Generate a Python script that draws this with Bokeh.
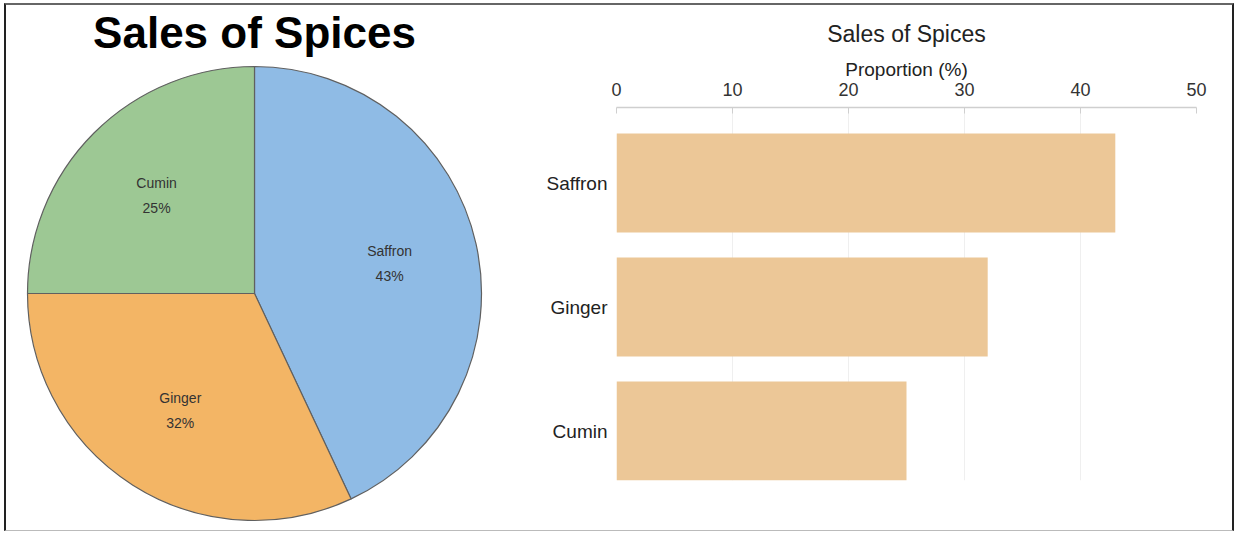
import math
from bokeh.plotting import figure
from bokeh.layouts import row, column
from bokeh.models import Range1d, FixedTicker, ColumnDataSource
from bokeh.embed import file_html
from bokeh.resources import INLINE
from bokeh.core.properties import value

# ---------------- data ----------------
title_text = "Sales of Spices"
spices = ["Saffron", "Ginger", "Cumin"]
shares = [43, 32, 25]
pie_colors = ["#8fbbe5", "#f3b565", "#9dc894"]

bar_spices = ["Saffron", "Ginger", "Cumin"]
bar_values = [43, 32, 25]
x_ticks = [0, 10, 20, 30, 40, 50]
x_label = "Proportion (%)"

FONT = "Liberation Sans"

# ---------------- pie ----------------
total = sum(shares)
starts, ends, lx, ly, labels = [], [], [], [], []
a = math.pi / 2
for name, s in zip(spices, shares):
    ang = 2 * math.pi * s / total
    starts.append(a)
    ends.append(a - ang)
    mid = a - ang / 2
    lx.append(0.61 * math.cos(mid))
    ly.append(0.61 * math.sin(mid))
    labels.append(f"{name}\n{s}%")
    a -= ang

R = 227.0
H = 525
p1 = figure(width=514, height=H, output_backend="svg", toolbar_location=None,
            x_range=Range1d(-248 / R, 266 / R), y_range=Range1d(-237 / R, 288 / R),
            x_axis_type=None, y_axis_type=None, min_border=0)
p1.grid.visible = False
p1.outline_line_color = None

src = ColumnDataSource(dict(start=starts, end=ends, color=pie_colors,
                            lx=lx, ly=ly, label=labels))
p1.wedge(x=0, y=0, radius=1.0, start_angle="start", end_angle="end",
         direction="clock", fill_color="color", line_color="#606060",
         line_width=1.2, source=src)
p1.text(x="lx", y="ly", text="label", source=src, text_align="center",
        text_baseline="middle", text_font=value(FONT), text_font_size="14px",
        text_color="#333333", text_line_height=1.55)
p1.text(x=[0], y=[(288 - 27) / R], text=[title_text], text_align="center",
        text_baseline="alphabetic", text_font=value(FONT), text_font_size="44px",
        text_font_style="bold", text_color="#000000")

# ---------------- bars ----------------
n = len(bar_spices)
ypos = [n - 1 - i for i in range(n)]

p2 = figure(width=712, height=H, output_backend="svg", toolbar_location=None,
            x_range=Range1d(x_ticks[0], x_ticks[-1]), y_range=Range1d(-0.399, 2.609),
            x_axis_location="above", title=title_text,
            min_border_left=96, min_border_right=36, min_border_top=102,
            min_border_bottom=50)
p2.outline_line_color = None
p2.hbar(y=ypos, left=0, right=bar_values, height=0.8, fill_color="#ecc797",
        line_color=None)

p2.title.align = "center"
p2.title.text_font = FONT
p2.title.text_font_size = "23px"
p2.title.text_font_style = "normal"
p2.title.text_color = "#222222"
p2.title.standoff = 18

xa = p2.xaxis[0]
xa.ticker = FixedTicker(ticks=x_ticks)
xa.axis_label = x_label
xa.axis_label_text_font = FONT
xa.axis_label_text_font_size = "19px"
xa.axis_label_text_font_style = "normal"
xa.axis_label_text_color = "#222222"
xa.axis_label_standoff = 0
xa.major_label_text_font = FONT
xa.major_label_text_font_size = "18px"
xa.major_label_text_color = "#333333"
xa.major_label_standoff = 12
xa.axis_line_color = "#cfcfcf"
xa.axis_line_width = 1.5
xa.major_tick_line_color = "#cfcfcf"
xa.major_tick_in = 6
xa.major_tick_out = 0
xa.minor_tick_line_color = None

ya = p2.yaxis[0]
ya.ticker = FixedTicker(ticks=ypos)
ya.major_label_overrides = {y: s for y, s in zip(ypos, bar_spices)}
ya.major_label_text_font = FONT
ya.major_label_text_font_size = "19px"
ya.major_label_text_color = "#222222"
ya.major_label_standoff = 3
ya.axis_line_color = None
ya.major_tick_line_color = None
ya.minor_tick_line_color = None

p2.xgrid.grid_line_color = "#efefef"
p2.ygrid.grid_line_color = None

layout = row(column(p1), column(p2), styles={
    "margin": "3px 0 0 4px",
    "border-left": "2px solid #222222",
    "border-right": "2px solid #222222",
    "border-top": "2px solid #666666",
    "border-bottom": "1px solid #bbbbbb",
})

open("out.html", "w").write(file_html(layout, INLINE))
